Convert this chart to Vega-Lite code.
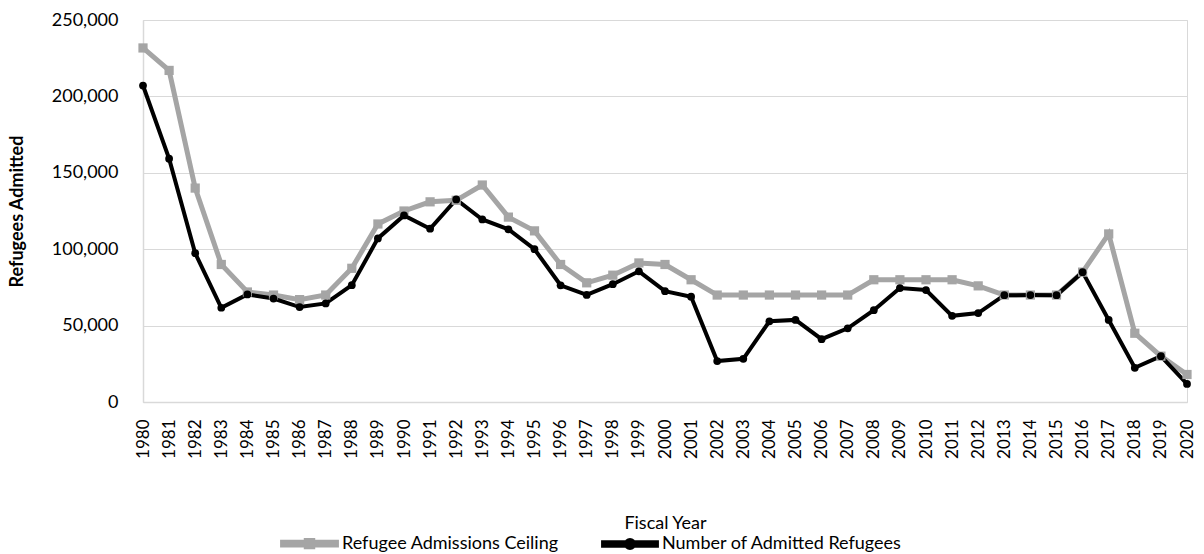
{
  "$schema": "https://vega.github.io/schema/vega-lite/v6.json",
  "width": 1044,
  "height": 382,
  "autosize": {"type": "none"},
  "padding": {"left": 143, "top": 20, "right": 17, "bottom": 152},
  "background": "white",
  "config": {
    "font": "Lato",
    "view": {"stroke": "#D9D9D9", "strokeWidth": 1}
  },
  "datasets": {
    "refugees": [
      {"year": "1980", "series": "Refugee Admissions Ceiling", "value": 231700},
      {"year": "1981", "series": "Refugee Admissions Ceiling", "value": 217000},
      {"year": "1982", "series": "Refugee Admissions Ceiling", "value": 140000},
      {"year": "1983", "series": "Refugee Admissions Ceiling", "value": 90000},
      {"year": "1984", "series": "Refugee Admissions Ceiling", "value": 72000},
      {"year": "1985", "series": "Refugee Admissions Ceiling", "value": 70000},
      {"year": "1986", "series": "Refugee Admissions Ceiling", "value": 67000},
      {"year": "1987", "series": "Refugee Admissions Ceiling", "value": 70000},
      {"year": "1988", "series": "Refugee Admissions Ceiling", "value": 87500},
      {"year": "1989", "series": "Refugee Admissions Ceiling", "value": 116500},
      {"year": "1990", "series": "Refugee Admissions Ceiling", "value": 125000},
      {"year": "1991", "series": "Refugee Admissions Ceiling", "value": 131000},
      {"year": "1992", "series": "Refugee Admissions Ceiling", "value": 132000},
      {"year": "1993", "series": "Refugee Admissions Ceiling", "value": 142000},
      {"year": "1994", "series": "Refugee Admissions Ceiling", "value": 121000},
      {"year": "1995", "series": "Refugee Admissions Ceiling", "value": 112000},
      {"year": "1996", "series": "Refugee Admissions Ceiling", "value": 90000},
      {"year": "1997", "series": "Refugee Admissions Ceiling", "value": 78000},
      {"year": "1998", "series": "Refugee Admissions Ceiling", "value": 83000},
      {"year": "1999", "series": "Refugee Admissions Ceiling", "value": 91000},
      {"year": "2000", "series": "Refugee Admissions Ceiling", "value": 90000},
      {"year": "2001", "series": "Refugee Admissions Ceiling", "value": 80000},
      {"year": "2002", "series": "Refugee Admissions Ceiling", "value": 70000},
      {"year": "2003", "series": "Refugee Admissions Ceiling", "value": 70000},
      {"year": "2004", "series": "Refugee Admissions Ceiling", "value": 70000},
      {"year": "2005", "series": "Refugee Admissions Ceiling", "value": 70000},
      {"year": "2006", "series": "Refugee Admissions Ceiling", "value": 70000},
      {"year": "2007", "series": "Refugee Admissions Ceiling", "value": 70000},
      {"year": "2008", "series": "Refugee Admissions Ceiling", "value": 80000},
      {"year": "2009", "series": "Refugee Admissions Ceiling", "value": 80000},
      {"year": "2010", "series": "Refugee Admissions Ceiling", "value": 80000},
      {"year": "2011", "series": "Refugee Admissions Ceiling", "value": 80000},
      {"year": "2012", "series": "Refugee Admissions Ceiling", "value": 76000},
      {"year": "2013", "series": "Refugee Admissions Ceiling", "value": 70000},
      {"year": "2014", "series": "Refugee Admissions Ceiling", "value": 70000},
      {"year": "2015", "series": "Refugee Admissions Ceiling", "value": 70000},
      {"year": "2016", "series": "Refugee Admissions Ceiling", "value": 85000},
      {"year": "2017", "series": "Refugee Admissions Ceiling", "value": 110000},
      {"year": "2018", "series": "Refugee Admissions Ceiling", "value": 45000},
      {"year": "2019", "series": "Refugee Admissions Ceiling", "value": 30000},
      {"year": "2020", "series": "Refugee Admissions Ceiling", "value": 18000},
      {"year": "1980", "series": "Number of Admitted Refugees", "value": 207116},
      {"year": "1981", "series": "Number of Admitted Refugees", "value": 159252},
      {"year": "1982", "series": "Number of Admitted Refugees", "value": 97355},
      {"year": "1983", "series": "Number of Admitted Refugees", "value": 61681},
      {"year": "1984", "series": "Number of Admitted Refugees", "value": 70393},
      {"year": "1985", "series": "Number of Admitted Refugees", "value": 67704},
      {"year": "1986", "series": "Number of Admitted Refugees", "value": 62146},
      {"year": "1987", "series": "Number of Admitted Refugees", "value": 64528},
      {"year": "1988", "series": "Number of Admitted Refugees", "value": 76483},
      {"year": "1989", "series": "Number of Admitted Refugees", "value": 107070},
      {"year": "1990", "series": "Number of Admitted Refugees", "value": 122066},
      {"year": "1991", "series": "Number of Admitted Refugees", "value": 113389},
      {"year": "1992", "series": "Number of Admitted Refugees", "value": 132531},
      {"year": "1993", "series": "Number of Admitted Refugees", "value": 119448},
      {"year": "1994", "series": "Number of Admitted Refugees", "value": 112981},
      {"year": "1995", "series": "Number of Admitted Refugees", "value": 99974},
      {"year": "1996", "series": "Number of Admitted Refugees", "value": 76403},
      {"year": "1997", "series": "Number of Admitted Refugees", "value": 70085},
      {"year": "1998", "series": "Number of Admitted Refugees", "value": 77080},
      {"year": "1999", "series": "Number of Admitted Refugees", "value": 85525},
      {"year": "2000", "series": "Number of Admitted Refugees", "value": 72515},
      {"year": "2001", "series": "Number of Admitted Refugees", "value": 68920},
      {"year": "2002", "series": "Number of Admitted Refugees", "value": 26785},
      {"year": "2003", "series": "Number of Admitted Refugees", "value": 28286},
      {"year": "2004", "series": "Number of Admitted Refugees", "value": 52840},
      {"year": "2005", "series": "Number of Admitted Refugees", "value": 53738},
      {"year": "2006", "series": "Number of Admitted Refugees", "value": 41094},
      {"year": "2007", "series": "Number of Admitted Refugees", "value": 48218},
      {"year": "2008", "series": "Number of Admitted Refugees", "value": 60107},
      {"year": "2009", "series": "Number of Admitted Refugees", "value": 74602},
      {"year": "2010", "series": "Number of Admitted Refugees", "value": 73293},
      {"year": "2011", "series": "Number of Admitted Refugees", "value": 56384},
      {"year": "2012", "series": "Number of Admitted Refugees", "value": 58179},
      {"year": "2013", "series": "Number of Admitted Refugees", "value": 69909},
      {"year": "2014", "series": "Number of Admitted Refugees", "value": 69975},
      {"year": "2015", "series": "Number of Admitted Refugees", "value": 69920},
      {"year": "2016", "series": "Number of Admitted Refugees", "value": 84989},
      {"year": "2017", "series": "Number of Admitted Refugees", "value": 53691},
      {"year": "2018", "series": "Number of Admitted Refugees", "value": 22405},
      {"year": "2019", "series": "Number of Admitted Refugees", "value": 30000},
      {"year": "2020", "series": "Number of Admitted Refugees", "value": 11814}
    ]
  },
  "data": {"name": "refugees"},
  "encoding": {
    "x": {
      "field": "year",
      "type": "ordinal",
      "scale": {"type": "point", "padding": 0},
      "axis": {
        "title": "Fiscal Year",
        "titleFont": "Lato",
        "titleFontSize": 18,
        "titleFontWeight": "normal",
        "titleColor": "#000000",
        "titlePadding": 56,
        "labelAngle": 270,
        "labelAlign": "right",
        "labelBaseline": "middle",
        "labelFontSize": 17,
        "labelColor": "#000000",
        "labelPadding": 17,
        "ticks": false,
        "domainColor": "#D9D9D9",
        "domainWidth": 1.5,
        "grid": false
      }
    },
    "y": {
      "field": "value",
      "type": "quantitative",
      "scale": {"domain": [0, 250000], "nice": false},
      "axis": {
        "title": "Refugees Admitted",
        "titleFontSize": 18,
        "titleFontWeight": "bold",
        "titleColor": "#000000",
        "titlePadding": 25,
        "values": [0, 50000, 100000, 150000, 200000, 250000],
        "format": ",d",
        "labelFontSize": 18,
        "labelColor": "#000000",
        "labelPadding": 25,
        "ticks": false,
        "domainColor": "#D9D9D9",
        "domainWidth": 1.5,
        "gridColor": "#D9D9D9",
        "gridWidth": 1
      }
    }
  },
  "layer": [
    {
      "mark": {"type": "line"},
      "encoding": {
        "color": {
          "field": "series",
          "type": "nominal",
          "sort": ["Refugee Admissions Ceiling", "Number of Admitted Refugees"],
          "scale": {
            "domain": ["Refugee Admissions Ceiling", "Number of Admitted Refugees"],
            "range": ["#A5A5A5", "#000000"]
          },
          "legend": {
            "orient": "none",
            "legendX": 137,
            "legendY": 494,
            "direction": "horizontal",
            "title": null,
            "labelFontSize": 18,
            "labelColor": "#000000",
            "labelFont": "Lato",
            "symbolType": "M-1,-0.06H1V0.06H-1Z M-0.13,-0.13H0.13V0.13H-0.13Z",
            "symbolSize": 2900,
            "symbolStrokeWidth": 0,
            "symbolFillColor": "#A5A5A5",
            "columnPadding": 36,
            "labelOffset": 3,
            "labelLimit": 400,
            "symbolOffset": 0,
            "encode": {
              "symbols": {
                "update": {
                  "shape": {"signal": "datum.value === 'Refugee Admissions Ceiling' ? 'M-1,-0.055H1V0.055H-1Z M-0.12,-0.12H0.12V0.12H-0.12Z' : 'M-1,-0.065H1V0.065H-1Z M-0.15,0 A0.15,0.15 0 1,1 0.15,0 A0.15,0.15 0 1,1 -0.15,0 Z'"},
                  "fill": {"signal": "datum.value === 'Refugee Admissions Ceiling' ? '#A5A5A5' : '#000000'"},
                  "stroke": {"value": "transparent"},
                  "strokeWidth": {"value": 0},
                  "fillOpacity": {"value": 1},
                  "opacity": {"value": 1}
                }
              }
            }
          }
        },
        "strokeWidth": {
          "field": "series",
          "type": "nominal",
          "scale": {
            "domain": ["Refugee Admissions Ceiling", "Number of Admitted Refugees"],
            "range": [5, 4]
          },
          "legend": null
        }
      }
    },
    {
      "transform": [{"filter": "datum.series === 'Refugee Admissions Ceiling'"}],
      "mark": {"type": "point", "shape": "square", "filled": true, "opacity": 1, "size": 85, "color": "#A5A5A5"}
    },
    {
      "transform": [{"filter": "datum.series === 'Number of Admitted Refugees'"}],
      "mark": {"type": "point", "shape": "circle", "filled": true, "opacity": 1, "size": 60, "color": "#000000"}
    }
  ]
}
